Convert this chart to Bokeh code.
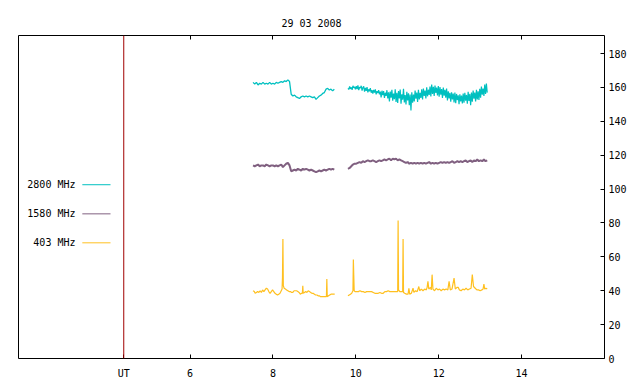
from bokeh.plotting import figure
from bokeh.models import Range1d, LinearAxis, FixedTicker, Span
from bokeh.core.properties import value
from bokeh.embed import file_html
from bokeh.resources import INLINE

TITLE = "29 03 2008"
X_TICKS = [4.4, 6, 8, 10, 12, 14]
X_LABELS = {4.4: "UT"}
Y_TICKS = [0, 20, 40, 60, 80, 100, 120, 140, 160, 180]
SERIES = ["2800 MHz", "1580 MHz", "403 MHz"]
COLORS = ["#00c0c0", "#806080", "#ffc020"]
UT_MARK = 4.4

# 2800 MHz, segment 1 (start time, step 0.04 h)
c_start1 = 7.52
c_step1 = 0.04
c_vals1 = [163, 162, 163, 161.5, 162.5, 162, 163, 162, 162.5, 162, 163, 162, 162.5, 162,
           163, 162.5, 163, 163.5, 163, 164, 163.5, 164.5, 163.5, 156, 155, 155.5, 154.5,
           154, 153.5, 154.5, 155, 154.5, 155, 154.5, 155, 154.5, 154, 154.5, 153, 154,
           155, 155.5, 156.5, 157, 159, 159.5, 158.5, 159, 158, 159]
# 2800 MHz, segment 2 (step 0.02 h)
c_start2 = 9.81
c_step2 = 0.02
c_vals2 = [159.5, 158.8, 160.6, 159.2, 160.1, 158.6, 161.0, 159.8, 160.4, 158.9,
           160.8, 159.0, 161.3, 158.4, 160.2, 159.6, 161.0, 158.2, 159.9, 160.7,
           157.6, 159.8, 158.0, 160.2, 157.1, 158.9, 157.8, 159.6, 156.9, 158.4,
           156.4, 158.6, 157.0, 158.9, 155.9, 157.8, 156.7, 158.5, 156.0, 157.6,
           154.2, 158.1, 155.5, 157.9, 153.8, 156.9, 155.0, 158.4, 153.6, 157.2,
           151.8, 157.6, 154.0, 158.6, 152.2, 156.4, 153.1, 159.0, 151.5, 156.8,
           150.9, 157.9, 153.6, 158.8, 150.4, 156.0, 152.8, 159.2, 151.2, 155.6,
           150.0, 157.4, 152.3, 156.6, 149.6, 155.9, 146.5, 157.2, 151.0, 155.8,
           151.8, 158.2, 153.4, 157.0, 151.5, 158.6, 152.9, 156.8, 153.8, 158.9,
           153.0, 159.4, 155.0, 158.2, 153.6, 160.1, 154.8, 158.7, 155.6, 160.6,
           154.7, 161.8, 156.2, 160.4, 155.0, 161.2, 156.8, 159.9, 155.3, 160.8,
           154.6, 160.2, 155.8, 159.1, 153.9, 160.0, 155.2, 158.6, 154.0, 159.4,
           152.4, 157.8, 153.6, 156.9, 151.6, 157.2, 153.0, 156.4, 151.2, 157.0,
           150.8, 156.2, 152.6, 155.4, 150.2, 156.0, 151.8, 155.2, 150.6, 156.4,
           151.0, 156.8, 152.2, 155.6, 150.4, 157.4, 152.0, 156.2, 149.6, 157.0,
           151.6, 158.2, 153.4, 157.0, 151.8, 158.6, 153.0, 157.8, 152.6, 159.2,
           154.0, 160.6, 155.8, 159.4, 155.0, 161.8, 156.2, 162.4, 157.0]

# 1580 MHz (step 0.04 h)
p_start1 = 7.52
p_vals1 = [114, 113.5, 114, 114.5, 113.5, 114, 114, 113.5, 114.5, 114, 113.5, 114, 114,
           113.5, 114, 113.5, 114, 114.5, 113, 114, 115, 115.5, 114, 110.5, 111, 111.5, 111,
           112, 111.5, 111, 112, 111.5, 112, 111.5, 111, 111.5, 111, 110.5, 110, 110.5, 111,
           110.5, 111, 111.5, 111, 111.5, 112, 111.5, 112, 111.5]
p_start2 = 9.81
p_vals2 = [112, 112.5, 113.5, 114.5, 115, 115, 115.5, 116, 115.5, 116.5, 116, 116.5, 117,
           116.5, 116.5, 117, 116.5, 116, 116.5, 117, 116.5, 117, 117.5, 117, 117.5, 118,
           117, 118, 117.5, 118, 117, 117.5, 117, 116.5, 116, 115.5, 116, 115, 115.5, 115,
           115.5, 115, 115.5, 115, 115.5, 115, 115.5, 115, 115.5, 116, 115, 115.5, 115,
           115.5, 115, 115.5, 116, 115.5, 116, 115.5, 116, 115.5, 116, 116.5, 115.5, 116,
           116.5, 116, 116.5, 116, 116.5, 117, 116, 116.5, 117, 116, 117, 116.5, 117.5,
           116.5, 117, 116.5, 117.5, 116.5, 117]
P_STEP = 0.04

# 403 MHz (time, value) pairs
g_t1 = [7.52, 7.55, 7.57, 7.60, 7.63, 7.66, 7.69, 7.72, 7.75, 7.78, 7.81, 7.84, 7.87, 7.90,
        7.93, 7.96, 7.99, 8.02, 8.05, 8.08, 8.11, 8.14, 8.17, 8.20, 8.22, 8.23, 8.24, 8.25,
        8.27, 8.30, 8.33, 8.36, 8.39, 8.42, 8.45, 8.48, 8.51, 8.54, 8.57, 8.60, 8.63, 8.66,
        8.69, 8.71, 8.72, 8.73, 8.76, 8.79, 8.82, 8.85, 8.88, 8.91, 8.94, 8.97, 9.00, 9.03,
        9.06, 9.09, 9.12, 9.15, 9.18, 9.21, 9.24, 9.27, 9.29, 9.30, 9.31, 9.34, 9.37, 9.40,
        9.43, 9.46, 9.49]
g_v1 = [40, 39.5, 38.5, 39, 39.5, 39, 40, 39, 40.5, 39.5, 40.5, 41.5, 41, 39.5, 38.5, 39.5,
        40.5, 39.5, 38.5, 38, 37.5, 38, 38.5, 40, 41, 48, 70.5, 43, 41.5, 41, 40.5, 40, 39.5,
        39.5, 39, 39, 40, 40, 40, 39.5, 39, 38, 38.5, 38.5, 43, 38.5, 39, 39.5, 39, 40, 39.5,
        39, 38.5, 38.5, 38, 37.5, 37.5, 37, 37, 36.5, 36.5, 36.5, 36.5, 36.5, 36.5, 47, 36.5,
        37, 37.5, 38, 38, 38, 38]
g_t2 = [9.81, 9.84, 9.87, 9.90, 9.92, 9.93, 9.94, 9.95, 9.96, 9.98, 10.02, 10.06, 10.10,
        10.14, 10.18, 10.22, 10.26, 10.30, 10.34, 10.38, 10.42, 10.46, 10.50, 10.54, 10.58,
        10.62, 10.66, 10.70, 10.74, 10.78, 10.82, 10.86, 10.90, 10.94, 10.98, 11.01, 11.02,
        11.03, 11.06, 11.10, 11.13, 11.14, 11.15, 11.18, 11.22, 11.26, 11.28, 11.30, 11.34,
        11.38, 11.40, 11.44, 11.48, 11.52, 11.54, 11.58, 11.62, 11.66, 11.70, 11.72, 11.74,
        11.76, 11.80, 11.82, 11.84, 11.86, 11.90, 11.94, 11.98, 12.02, 12.06, 12.10, 12.14,
        12.18, 12.22, 12.25, 12.28, 12.32, 12.37, 12.40, 12.44, 12.47, 12.50, 12.54, 12.58,
        12.62, 12.66, 12.70, 12.74, 12.78, 12.81, 12.84, 12.88, 12.92, 12.96, 13.00, 13.04,
        13.07, 13.09, 13.11, 13.14, 13.17]
g_v2 = [37, 37.5, 38, 38.5, 39.5, 40, 58.5, 49, 40, 39.5, 39.5, 39.5, 40, 39.5, 39.5, 39,
        39.5, 39.5, 39.5, 39.5, 39, 38.5, 38.5, 38.5, 39, 38.5, 38.5, 39.5, 39.5, 40, 39.5,
        39.5, 39.5, 39.5, 39.5, 39.5, 81.5, 40.5, 39.5, 39.5, 39.5, 70.5, 39, 38.5, 38, 38,
        41.5, 38, 38.5, 41.5, 39, 40, 39.5, 42.5, 40, 41, 40, 41, 40.5, 42, 45.5, 41, 42,
        40.5, 49.5, 41, 40, 41.5, 40.5, 41, 40, 41, 40.5, 41, 40.5, 45.5, 40.5, 41, 47.5, 41,
        42, 42, 40.5, 40, 41, 40.5, 41.5, 40.5, 41, 41.5, 49.5, 42.5, 41.5, 40.5, 40.5, 40,
        40.5, 41, 44, 41, 41.5, 41]


def times(start, step, vals):
    return [round(start + step * i, 3) for i in range(len(vals))]


FONT = "DejaVu Sans Mono"

p = figure(frame_width=586, frame_height=323,
           x_range=Range1d(1.86, 16), y_range=Range1d(0, 190.7),
           output_backend="svg", toolbar_location=None,
           x_axis_location=None, y_axis_location=None,
           min_border_left=18, min_border_right=36, min_border_top=35, min_border_bottom=26)
p.grid.visible = False
p.outline_line_color = "black"
p.outline_line_width = 1
p.background_fill_color = "white"
p.border_fill_color = "white"

p.title.text = TITLE
p.title.align = "center"
p.title.text_font = FONT
p.title.text_font_size = "10px"
p.title.text_font_style = "normal"
p.title.text_color = "black"
p.title.standoff = 14


def style_axis(ax):
    ax.axis_line_color = None
    ax.major_tick_in = 4
    ax.major_tick_out = 0
    ax.minor_tick_line_color = None
    ax.major_tick_line_color = "black"
    ax.major_label_text_font = FONT
    ax.major_label_text_font_size = "10px"
    ax.major_label_text_color = "black"


bottom = LinearAxis(ticker=FixedTicker(ticks=X_TICKS), major_label_overrides=X_LABELS)
style_axis(bottom)
bottom.major_label_standoff = 9
p.add_layout(bottom, "below")

top = LinearAxis(ticker=FixedTicker(ticks=X_TICKS[1:]),
                 major_label_overrides={float(t): "" for t in X_TICKS[1:]})
style_axis(top)
top.major_label_standoff = 0
p.add_layout(top, "above")

right = LinearAxis(ticker=FixedTicker(ticks=Y_TICKS))
style_axis(right)
right.major_label_standoff = 4
p.add_layout(right, "right")

p.add_layout(Span(location=UT_MARK, dimension="height", line_color="#a00000", line_width=1))

p.line(times(c_start1, c_step1, c_vals1), c_vals1, line_color=COLORS[0], line_width=1.3)
p.line(times(c_start2, c_step2, c_vals2), c_vals2, line_color=COLORS[0], line_width=1.2)
p.line(times(p_start1, P_STEP, p_vals1), p_vals1, line_color=COLORS[1], line_width=2)
p.line(times(p_start2, P_STEP, p_vals2), p_vals2, line_color=COLORS[1], line_width=2)
p.line(g_t1, g_v1, line_color=COLORS[2], line_width=1.2)
p.line(g_t2, g_v2, line_color=COLORS[2], line_width=1.2)

# legend (text left of sample line)
LEG_TEXT_X = 3.235
LEG_X0, LEG_X1 = 3.40, 4.08
LEG_Y = [102.6, 85.4, 68.3]
p.text(x=[LEG_TEXT_X] * 3, y=LEG_Y, text=SERIES, text_align="right",
       text_baseline="middle", text_font=value(FONT), text_font_size="10px",
       text_color="black")
p.segment(x0=[LEG_X0] * 3, y0=LEG_Y, x1=[LEG_X1] * 3, y1=LEG_Y,
          line_color=COLORS, line_width=1)

open("out.html", "w").write(file_html(p, INLINE))
